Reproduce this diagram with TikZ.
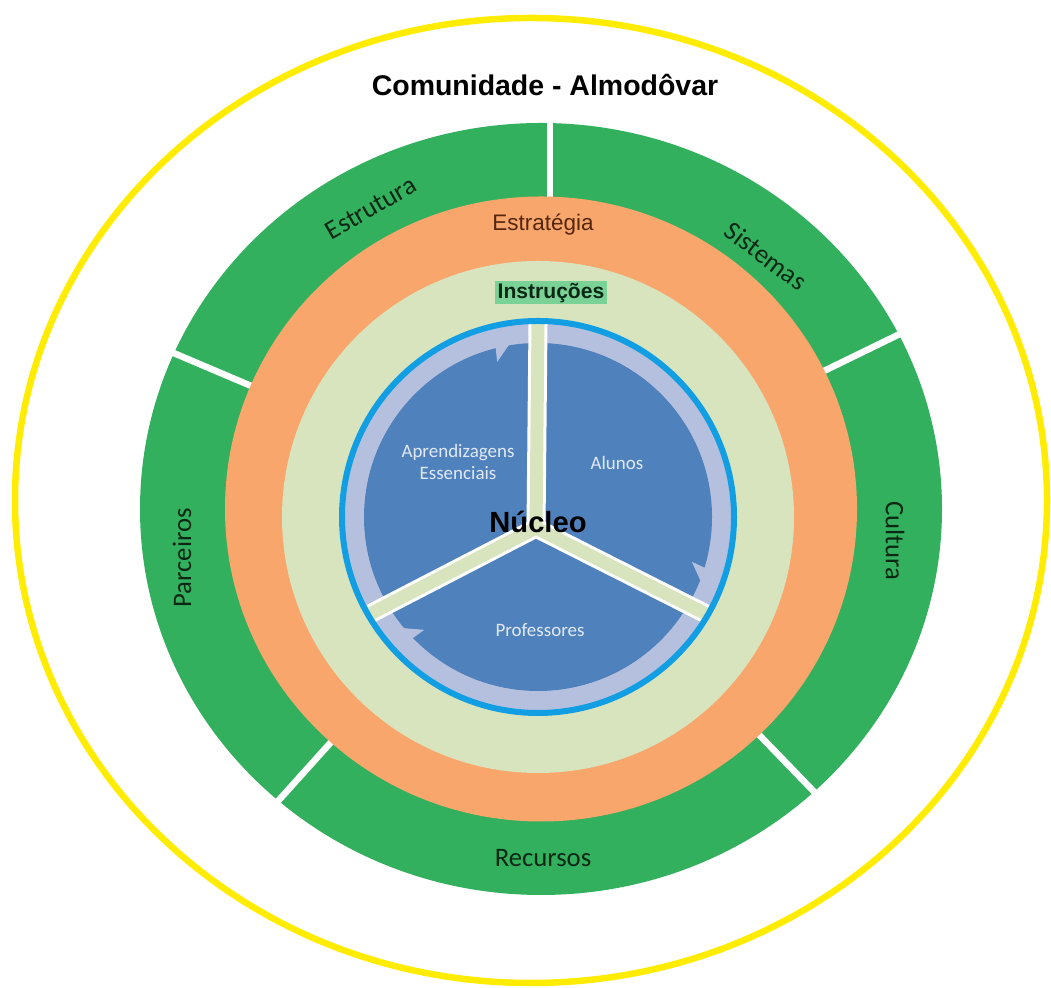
\documentclass[tikz,border=0pt]{standalone}
\usepackage{fontspec}
\setmainfont{Liberation Sans}
\newfontfamily\calibri{Carlito}
\usepackage{xcolor}
\usetikzlibrary{positioning,arrows.meta,calc}
\definecolor{community}{RGB}{255,236,0}
\definecolor{ringgreen}{RGB}{50,176,94}
\definecolor{strategy}{RGB}{248,166,108}
\definecolor{instruct}{RGB}{216,228,190}
\definecolor{instrbox}{RGB}{122,210,150}
\definecolor{lavender}{RGB}{180,192,222}
\definecolor{coreblue}{RGB}{79,129,189}
\definecolor{rimblue}{RGB}{18,158,226}
\definecolor{segtext}{RGB}{12,40,20}
\definecolor{strattext}{RGB}{85,38,12}
\definecolor{coretext}{RGB}{226,233,245}
\tikzset{community line/.style={draw=community,line width=0.065cm},
    gap/.style={draw=white,line width=0.065cm},
    segment/.style={font=\calibri\fontsize{7.6}{9}\selectfont,text=segtext,inner sep=0pt},
    corelabel/.style={font=\calibri\fontsize{5.4}{6.4}\selectfont,text=coretext,align=center,inner sep=0pt},
    cycle arrow/.style={draw=lavender,line width=0.19cm,-{Triangle[width=0.5cm,length=0.22cm,right]}},
    spoke edge/.style={draw=white,line width=0.19cm},
    spoke/.style={draw=instruct,line width=0.13cm},
    rim/.style={draw=rimblue,line width=0.06cm}}

\begin{document}
\begin{tikzpicture}
    \useasboundingbox (0,0) rectangle (10.51,9.88);
    \coordinate (ring) at (5.41,4.79);
    \coordinate (core) at (5.38,4.71);
    \coordinate (hub) at (5.36,4.60);

    % community
    \draw[community line] (5.31,4.875) ellipse [x radius=5.16, y radius=4.825];

    % outer ring, cut in five
    \fill[ringgreen] (ring) ellipse [x radius=4.01, y radius=3.86];
    \foreach \a in {26,157,228,314}
        \draw[gap] (ring) -- ++(\a:4.2);
    \draw[gap] (5.50,4.79) -- (5.50,8.70);

    \fill[strategy] (ring) ellipse [x radius=3.16, y radius=3.125];
    \fill[instruct] (core) circle (2.56);

    % core
    \fill[lavender] (core) circle (1.95);
    \fill[coreblue] (core) circle (1.74);
    \draw[cycle arrow] ($(core)+(87:1.84)$) arc[start angle=87, end angle=-25, radius=1.84];
    \draw[cycle arrow] ($(core)+(327:1.84)$) arc[start angle=327, end angle=216, radius=1.84];
    \draw[cycle arrow] ($(core)+(207:1.84)$) arc[start angle=207, end angle=96, radius=1.84];
    \foreach \a in {90,210,330}
        \draw[spoke edge] (hub) -- ($(core)+(\a:1.93)$);
    \foreach \a in {90,210,330}
        \draw[spoke] (hub) -- ($(core)+(\a:1.93)$);
    \draw[rim] (core) circle (1.96);

    % labels
    \node[font=\bfseries\fontsize{8.1}{9.7}\selectfont] (comunidade) at (5.45,9.03) {Comunidade - Almodôvar};
    \node[segment,rotate=30] (estrutura) at (3.71,7.80) {Estrutura};
    \node[segment,rotate=-37] (sistemas) at (7.66,7.32) {Sistemas};
    \node[segment,rotate=90] (parceiros) at (1.82,4.30) {Parceiros};
    \node[segment,rotate=-90] (cultura) at (8.95,4.47) {Cultura};
    \node[segment] (recursos) at (5.43,1.30) {Recursos};
    \node[font=\fontsize{6.4}{7.7}\selectfont,text=strattext] (estrategia) at (5.43,7.63) {Estratégia};
    \node[fill=instrbox,minimum width=1.12cm,minimum height=0.23cm,inner sep=0pt,
        font=\bfseries\fontsize{6}{7.2}\selectfont,text=segtext] (instrucoes) at (5.51,6.95) {Instruções};
    \node[font=\bfseries\fontsize{8.3}{10}\selectfont] (nucleo) at (5.38,4.66) {Núcleo};
    \node[corelabel] (aprendizagens) at (4.58,5.26) {Aprendizagens\\Essenciais};
    \node[corelabel] (alunos) at (6.17,5.25) {Alunos};
    \node[corelabel] (professores) at (5.40,3.58) {Professores};
\end{tikzpicture}
\end{document}
